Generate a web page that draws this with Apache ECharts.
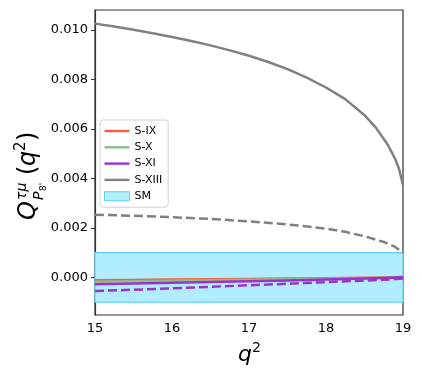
<!DOCTYPE html>
<html>
<head>
<meta charset="utf-8">
<script src="https://cdn.jsdelivr.net/npm/echarts@6/dist/echarts.min.js"></script>
<style>
  html, body { margin: 0; padding: 0; background: #fff; }
  #main { width: 422px; height: 381px; }
</style>
</head>
<body>
<div id="main"></div>
<script>
// q^2 sample points for the near-zero lines
var q2 = [15, 15.5, 16, 16.5, 17, 17.5, 18, 18.25, 18.5, 18.75, 18.9, 19];

var sIX   = [-0.00012, -0.00011, -0.00009, -0.00008, -0.00007, -0.00005, -0.00004, -0.00003, -0.00002, -0.00001, 0.00000, 0.00002];
var sX    = [-0.00018, -0.00016, -0.00014, -0.00012, -0.00010, -0.00008, -0.00006, -0.00005, -0.00004, -0.00002, -0.00001, 0.00000];
var sXI   = [-0.00028, -0.00025, -0.00022, -0.00019, -0.00016, -0.00013, -0.00009, -0.00007, -0.00005, -0.00003, -0.00001, 0.00000];
var sXIdash = [-0.00055, -0.00050, -0.00044, -0.00038, -0.00032, -0.00026, -0.00019, -0.00016, -0.00013, -0.00010, -0.00007, -0.00005];

// S-XIII needs finer points near the end point
var q2b = [15, 15.25, 15.5, 15.75, 16, 16.25, 16.5, 16.75, 17, 17.25, 17.5, 17.75, 18, 18.25, 18.5, 18.65, 18.8, 18.9, 18.95, 19];
var sXIII = [0.01025, 0.01013, 0.01000, 0.00986, 0.00971, 0.00955, 0.00937, 0.00917, 0.00895, 0.00870, 0.00841, 0.00807, 0.00767, 0.00720, 0.00655, 0.00604, 0.00537, 0.00477, 0.00437, 0.00372];

var q2c = [15, 15.5, 16, 16.5, 17, 17.5, 18, 18.25, 18.5, 18.75, 18.9, 19];
var sXIIIdash = [0.00253, 0.00249, 0.00243, 0.00236, 0.00226, 0.00214, 0.00197, 0.00184, 0.00166, 0.00143, 0.00123, 0.00099];

// SM band
var smLow = -0.001;
var smHigh = 0.001;

var yTicks = [0, 0.002, 0.004, 0.006, 0.008, 0.010];

var colors = {
  'S-IX': '#ff5b3a',
  'S-X': '#8dbf8d',
  'S-XI': '#9a32cd',
  'S-XIII': '#808080'
};

function pairs(xs, ys) {
  return xs.map(function (x, i) { return [x, ys[i]]; });
}

function lineSeries(name, xs, ys, color, dashed) {
  return {
    name: name,
    type: 'line',
    data: pairs(xs, ys),
    symbol: 'none',
    smooth: false,
    lineStyle: { color: color, width: 2.5, type: dashed ? [9, 4] : 'solid', join: 'round' },
    itemStyle: { color: color },
    z: 3
  };
}

// flat bar inside an invisible 25x9 box, used as legend handle
var lineIcon = 'path://M0,0L0,0M0,3.3L25,3.3L25,5.7L0,5.7ZM25,9L25,9';

var chart = echarts.init(document.getElementById('main'));

var mathFont = 'DejaVu Sans';

var option = {
  animation: false,
  grid: {
    left: 95, right: 19, top: 10, bottom: 66,
    show: true, borderColor: '#333', borderWidth: 1.2
  },
  xAxis: {
    type: 'value', min: 15, max: 19, interval: 1,
    axisLine: { lineStyle: { color: '#333', width: 1.2 } },
    axisTick: { length: 4, lineStyle: { color: '#333' } },
    axisLabel: { color: '#000', fontSize: 13, fontFamily: mathFont, margin: 7 },
    splitLine: { show: false }
  },
  yAxis: {
    type: 'value', min: -0.00152, max: 0.0108,
    axisLine: { show: true, lineStyle: { color: '#333', width: 1.2 } },
    axisTick: { show: true, length: 4, customValues: yTicks, lineStyle: { color: '#333' } },
    axisLabel: {
      color: '#000', fontSize: 13, fontFamily: mathFont, margin: 7,
      customValues: yTicks,
      formatter: function (v) { return v.toFixed(3); }
    },
    splitLine: { show: false }
  },
  legend: {
    left: 100, top: 120,
    orient: 'vertical',
    padding: [5, 6, 5, 4],
    itemWidth: 25, itemHeight: 9, itemGap: 4.3,
    backgroundColor: 'rgba(255,255,255,0.85)',
    borderColor: '#d0d0d0', borderWidth: 1, borderRadius: 3,
    textStyle: { fontSize: 11, fontFamily: mathFont, color: '#000', lineHeight: 12 },
    data: [
      { name: 'S-IX', icon: lineIcon },
      { name: 'S-X', icon: lineIcon },
      { name: 'S-XI', icon: lineIcon },
      { name: 'S-XIII', icon: lineIcon },
      { name: 'SM', icon: 'rect', itemStyle: { color: '#b2ecff', borderColor: '#5fd3f5', borderWidth: 1 } }
    ]
  },
  series: [
    {
      name: 'SM', type: 'line', data: [], symbol: 'none',
      itemStyle: { color: '#b2ecff' },
      markArea: {
        silent: true,
        itemStyle: { color: '#b2ecff', borderColor: '#5fd3f5', borderWidth: 1.2 },
        data: [[{ coord: [15, smLow] }, { coord: [19, smHigh] }]]
      },
      z: 1
    },
    lineSeries('S-IX', q2, sIX, colors['S-IX'], false),
    lineSeries('S-X', q2, sX, colors['S-X'], false),
    lineSeries('S-XI', q2, sXI, colors['S-XI'], false),
    lineSeries('S-XI dashed', q2, sXIdash, colors['S-XI'], true),
    lineSeries('S-XIII', q2b, sXIII, colors['S-XIII'], false),
    lineSeries('S-XIII dashed', q2c, sXIIIdash, colors['S-XIII'], true)
  ],
  graphic: [
    // y axis title: Q^{τμ}_{P_8'}(q^2), rotated
    {
      type: 'group', x: 31, y: 172, rotation: Math.PI / 2,
      children: [
        { type: 'text', x: -48, y: -14, style: { text: 'Q', font: 'italic 24px DejaVu Sans', fill: '#000' } },
        { type: 'text', x: -28, y: -16, style: { text: 'τμ', font: 'italic 14px DejaVu Sans', fill: '#000' } },
        { type: 'text', x: -28, y: 1, style: { text: 'P', font: 'italic 14px DejaVu Sans', fill: '#000' } },
        { type: 'text', x: -19, y: 8, style: { text: "8'", font: '9px DejaVu Sans', fill: '#000' } },
        { type: 'text', x: -3, y: -14, style: { text: '(', font: '24px DejaVu Sans', fill: '#000' } },
        { type: 'text', x: 6, y: -14, style: { text: 'q', font: 'italic 24px DejaVu Sans', fill: '#000' } },
        { type: 'text', x: 21, y: -17, style: { text: '2', font: '15px DejaVu Sans', fill: '#000' } },
        { type: 'text', x: 31, y: -14, style: { text: ')', font: '24px DejaVu Sans', fill: '#000' } }
      ]
    },
    // x axis title: q^2
    {
      type: 'group', x: 238, y: 344,
      children: [
        { type: 'text', x: 0, y: 0, style: { text: 'q', font: 'italic 22px DejaVu Sans', fill: '#000' } },
        { type: 'text', x: 14, y: -3, style: { text: '2', font: '14px DejaVu Sans', fill: '#000' } }
      ]
    }
  ]
};

chart.setOption(option);
</script>
</body>
</html>
